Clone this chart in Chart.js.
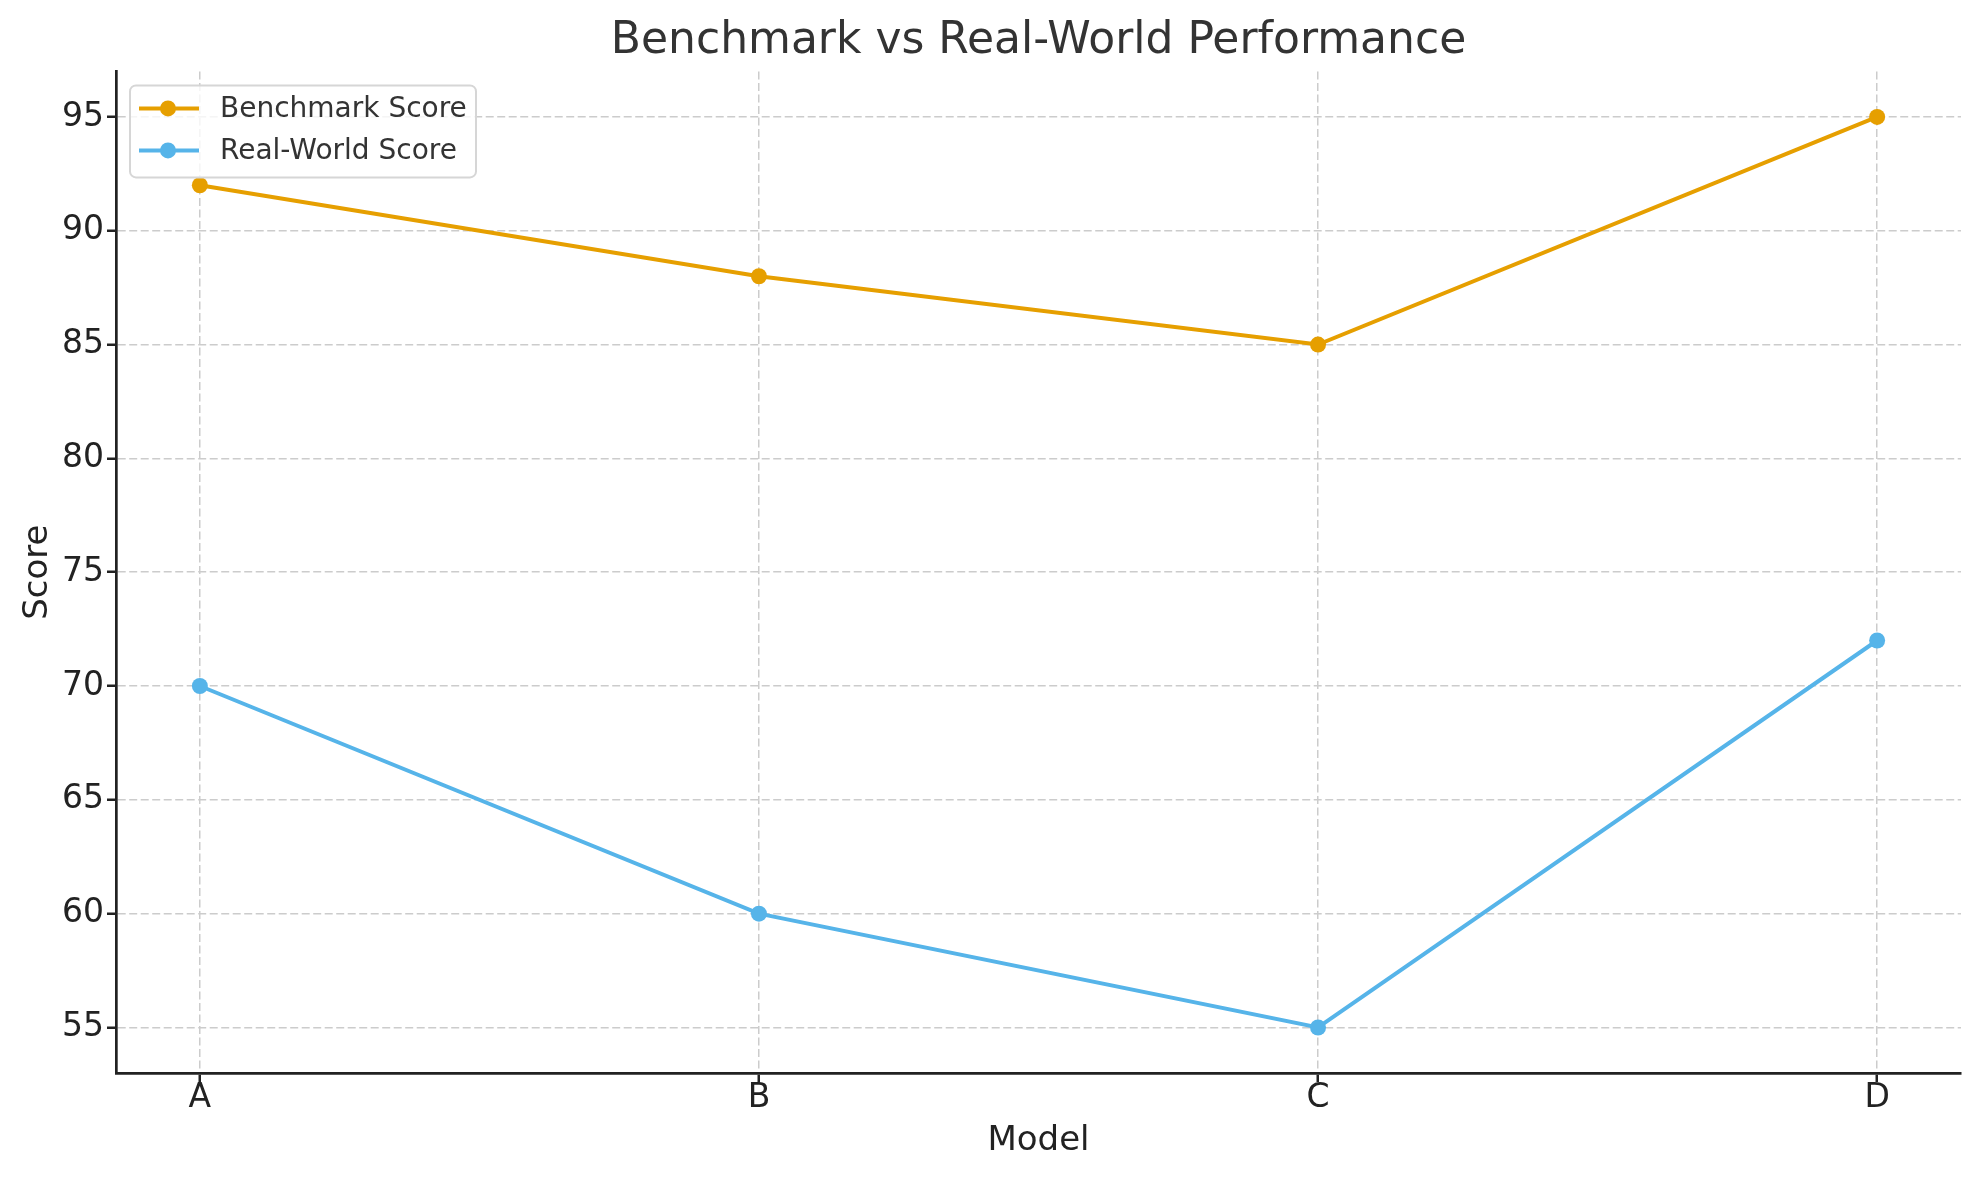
<!DOCTYPE html>
<html>
<head>
<meta charset="utf-8">
<script src="https://cdn.jsdelivr.net/npm/chart.js@4/dist/chart.umd.min.js"></script>
<style>
  html, body { margin: 0; padding: 0; background: #fff; }
  #wrap { width: 1980px; height: 1180px; }
</style>
</head>
<body>
<div id="wrap"><canvas id="perfChart" width="1980" height="1180"></canvas></div>
<script>
// values
const categories = ['A', 'B', 'C', 'D'];
const benchmarkScores = [92, 88, 85, 95];
const realWorldScores = [70, 60, 55, 72];
const yTicks = [55, 60, 65, 70, 75, 80, 85, 90, 95];

const FONT = "'DejaVu Sans', sans-serif";

// line + marker legend in the upper left, like matplotlib
const lineLegend = {
  id: 'lineLegend',
  afterDatasetsDraw(chart) {
    const ctx = chart.ctx;
    const area = chart.chartArea;
    const x0 = area.left + 14, y0 = area.top + 14;
    const w = 346, h = 92;
    ctx.save();
    ctx.beginPath();
    ctx.roundRect(x0, y0, w, h, 6);
    ctx.fillStyle = 'rgba(255,255,255,0.8)';
    ctx.fill();
    ctx.lineWidth = 2;
    ctx.strokeStyle = '#d6d6d6';
    ctx.stroke();
    chart.data.datasets.forEach((ds, i) => {
      const y = y0 + 23 + i * 42;
      ctx.beginPath();
      ctx.moveTo(x0 + 9, y);
      ctx.lineTo(x0 + 69, y);
      ctx.lineWidth = 4;
      ctx.strokeStyle = ds.borderColor;
      ctx.stroke();
      ctx.beginPath();
      ctx.arc(x0 + 38, y, 8, 0, Math.PI * 2);
      ctx.fillStyle = ds.borderColor;
      ctx.fill();
      ctx.fillStyle = '#333333';
      ctx.font = '28px ' + FONT;
      ctx.textBaseline = 'middle';
      ctx.fillText(ds.label, x0 + 90, y + 1);
    });
    ctx.restore();
  }
};

const toPoints = vals => vals.map((v, i) => ({ x: i, y: v }));

const gridStyle = {
  color: '#cccccc', lineWidth: 1.5,
  tickColor: '#222222', tickWidth: 2.5, tickLength: 9, tickBorderDash: []
};

new Chart(document.getElementById('perfChart'), {
  type: 'line',
  data: {
    datasets: [
      {
        label: 'Benchmark Score',
        data: toPoints(benchmarkScores),
        borderColor: '#E69F00', backgroundColor: '#E69F00',
        borderWidth: 4, pointRadius: 8, pointBorderWidth: 0, tension: 0
      },
      {
        label: 'Real-World Score',
        data: toPoints(realWorldScores),
        borderColor: '#56B4E9', backgroundColor: '#56B4E9',
        borderWidth: 4, pointRadius: 8, pointBorderWidth: 0, tension: 0
      }
    ]
  },
  options: {
    responsive: false,
    animation: false,
    devicePixelRatio: 1,
    layout: { padding: { left: 0, right: 19, top: 0, bottom: 0 } },
    plugins: {
      legend: { display: false },
      tooltip: { enabled: false },
      title: {
        display: true,
        fullSize: false,
        text: 'Benchmark vs Real-World Performance',
        color: '#333333',
        font: { family: FONT, size: 44, weight: 'normal', lineHeight: 1.2 },
        padding: { top: 15, bottom: 3.6 }
      }
    },
    scales: {
      x: {
        type: 'linear',
        min: -0.15, max: 3.15,
        afterBuildTicks: s => { s.ticks = categories.map((c, i) => ({ value: i })); },
        afterFit: s => { s.height = 107; },
        ticks: {
          callback: v => categories[v],
          color: '#222222',
          font: { family: FONT, size: 33 },
          padding: -3
        },
        grid: gridStyle,
        border: { color: '#222222', width: 2.7, dash: [8, 3.5] },
        title: {
          display: true, text: 'Model', color: '#222222',
          font: { family: FONT, size: 34 },
          padding: { top: 18, bottom: 18 }
        }
      },
      y: {
        min: 53, max: 97,
        afterBuildTicks: s => { s.ticks = yTicks.map(v => ({ value: v })); },
        afterFit: s => { s.width = 116; },
        ticks: {
          color: '#222222',
          font: { family: FONT, size: 33 },
          padding: 3
        },
        grid: gridStyle,
        border: { color: '#222222', width: 2.7, dash: [8, 3.5] },
        title: {
          display: true, text: 'Score', color: '#222222',
          font: { family: FONT, size: 34 },
          padding: { top: 18, bottom: 18 }
        }
      }
    }
  },
  plugins: [lineLegend]
});
</script>
</body>
</html>
